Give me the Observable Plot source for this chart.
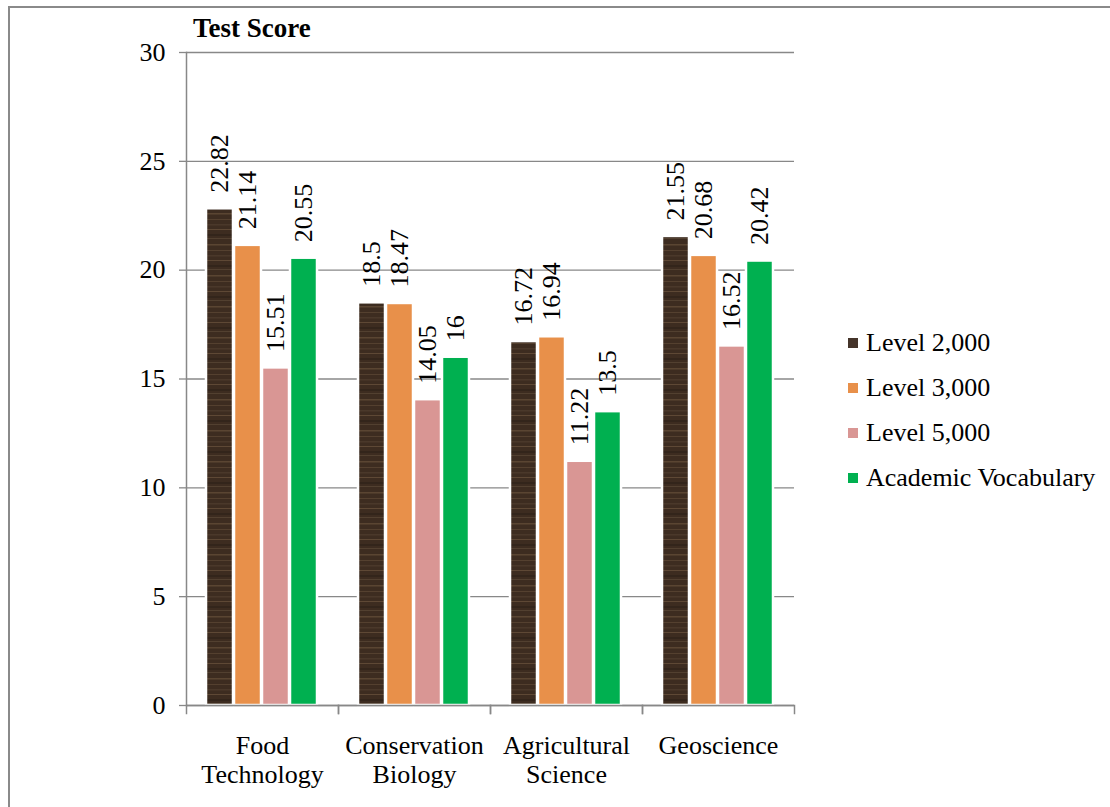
<!DOCTYPE html>
<html><head><meta charset="utf-8">
<script src="https://cdn.jsdelivr.net/npm/d3@7"></script>
<script src="https://cdn.jsdelivr.net/npm/@observablehq/plot@0.6"></script>
<style>
body{margin:0;background:#fff;width:1110px;height:807px;overflow:hidden;position:relative;font-family:"Liberation Serif","Times New Roman",serif;}
#border{position:absolute;left:8px;top:6px;width:2000px;height:2000px;border-left:2px solid #8a8a8a;border-top:2px solid #8a8a8a;}
#chart{position:absolute;left:0;top:0;}
#chart svg text{font-family:"Liberation Serif","Times New Roman",serif !important;font-variant:normal !important;}
#title{position:absolute;left:193px;top:15px;font-weight:bold;font-size:27px;line-height:27px;white-space:nowrap;}
#legend{position:absolute;left:848px;top:320px;}
.row{display:flex;align-items:center;height:45px;font-size:26px;white-space:nowrap;}
.sw{width:10px;height:10px;margin-right:8px;flex:none;}
</style></head><body>
<div id="border"></div><div id="chart"></div><div id="title">Test Score</div><div id="legend"></div>
<script>
const categories = ["Food Technology", "Conservation Biology", "Agricultural Science", "Geoscience"];
const categoryLabels = ["Food\nTechnology", "Conservation\nBiology", "Agricultural\nScience", "Geoscience"];
const series = ["Level 2,000", "Level 3,000", "Level 5,000", "Academic Vocabulary"];
const level2000 = [22.82, 18.5, 16.72, 21.55];
const level3000 = [21.14, 18.47, 16.94, 20.68];
const level5000 = [15.51, 14.05, 11.22, 16.52];
const academic = [20.55, 16, 13.5, 20.42];
const yTicks = [0, 5, 10, 15, 20, 25, 30];
const swatchColors = ["#45342a", "#e8904a", "#d99694", "#00b050"];
const barFills = ["url(#wood)", "#e8904a", "#d99694", "#00b050"];

const seriesValues = [level2000, level3000, level5000, academic];
const data = [];
categories.forEach((c, i) => seriesValues.forEach((arr, j) => data.push({category: c, series: series[j], value: arr[i]})));

const serif = "Liberation Serif";
const W = 1110, H = 807, mt = 52, mr = 315, mb = 102, ml = 185;
const grey = "#888";
const plot = Plot.plot({
  width: W, height: H, marginTop: mt, marginRight: mr, marginBottom: mb, marginLeft: ml,
  style: {fontFamily: serif, background: "transparent", overflow: "visible"},
  fx: {domain: categories, padding: 0},
  x: {domain: series, paddingInner: 0.02, paddingOuter: 0.7, axis: null},
  y: {domain: [0, 30]},
  color: {domain: series, range: barFills},
  marks: [
    Plot.gridY(yTicks, {stroke: grey, strokeOpacity: 1, strokeWidth: 1.3}),
    Plot.barY(data, {fx: "category", x: "series", y: "value", fill: "series", stroke: "white", strokeWidth: 2.5}),
    Plot.text(data, {fx: "category", x: "series", y: "value", text: d => String(d.value), rotate: -90, textAnchor: "start", lineAnchor: "middle", dy: -16, fontSize: 26, fontFamily: serif, fill: "black"}),
    Plot.ruleY([0], {stroke: grey, strokeWidth: 1.5}),
    Plot.axisY(yTicks, {tickSize: 7, tickPadding: 14, fontSize: 26, fontFamily: serif, stroke: grey, strokeWidth: 1.3, fill: "black", label: null}),
    Plot.frame({anchor: "left", facetAnchor: "left", stroke: grey, strokeWidth: 1.5}),
    Plot.axisFx({anchor: "bottom", tickSize: 0, tickPadding: 28, fontSize: 26, fontFamily: serif, lineHeight: 1.12, fill: "black", label: null, tickFormat: d => categoryLabels[categories.indexOf(d)]}),
    Plot.frame({anchor: "left", stroke: grey, strokeWidth: 1.5, insetTop: H - mt - mb, insetBottom: -8}),
    Plot.frame({anchor: "right", stroke: grey, strokeWidth: 1.5, insetTop: H - mt - mb, insetBottom: -8})
  ]
});

// wood-grain pattern for the Level 2,000 bars
const defs = d3.select(plot).insert("defs", ":first-child");
const pat = defs.append("pattern").attr("id", "wood").attr("patternUnits", "userSpaceOnUse").attr("width", 40).attr("height", 31);
pat.append("rect").attr("width", 40).attr("height", 31).attr("fill", "#3d2c20");
[[2, "#54402f", 1], [7, "#4a382a", 1.5], [12, "#5e4835", 1], [17, "#33251b", 2], [21, "#524030", 1], [27, "#5a4532", 1.5]].forEach(([y, c, w]) =>
  pat.append("rect").attr("x", 0).attr("y", y).attr("width", 40).attr("height", w).attr("fill", c));

d3.select(plot).selectAll("text").style("font-family", "'Liberation Serif', serif");

document.getElementById("chart").appendChild(plot);

const legend = d3.select("#legend");
series.forEach((s, i) => {
  const row = legend.append("div").attr("class", "row");
  row.append("div").attr("class", "sw").style("background", swatchColors[i]);
  row.append("span").text(s);
});
</script>
</body></html>
